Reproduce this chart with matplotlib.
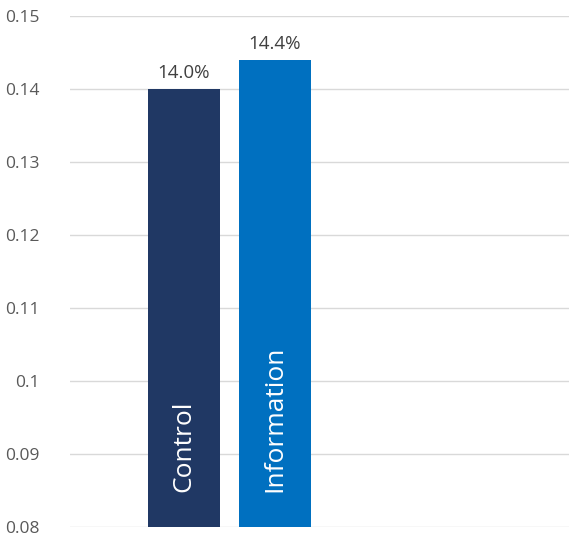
import matplotlib.pyplot as plt
import numpy as np

#data
groups = ['Control', 'Information']
values = [0.140, 0.144]
labels = ['14.0%', '14.4%']
colors = ['#203864', '#0070C0']
yticks = [0.08, 0.09, 0.1, 0.11, 0.12, 0.13, 0.14, 0.15]
ytick_labels = ['0.08', '0.09', '0.1', '0.11', '0.12', '0.13', '0.14', '0.15']

plt.rcParams['font.family'] = ['Open Sans', 'DejaVu Sans']

fig = plt.figure(figsize=(5.69, 5.36), dpi=100)
ax = fig.add_axes([70/569, 1-527/536, 499/569, (527-16)/536])

x = np.arange(len(groups))
ax.bar(x, values, width=0.79, color=colors, zorder=2)

for i in range(len(groups)):
    ax.text(x[i], values[i] + 0.0009, labels[i], ha='center', va='bottom',
            fontsize=13.5, color='#404040')
    ax.text(x[i], 0.0848, groups[i], ha='center', va='bottom', rotation=90,
            fontsize=19, color='white', zorder=3)

ax.set_xlim(-1.253, 4.23)
ax.set_ylim(0.08, 0.15)
ax.set_yticks(yticks)
ax.set_yticklabels(ytick_labels, fontsize=12.5, color='#595959')
ax.set_xticks([])
ax.tick_params(axis='y', length=0, pad=22)
ax.grid(axis='y', color='#D9D9D9', linewidth=1, zorder=0)
for s in ax.spines.values():
    s.set_visible(False)

fig.savefig('out.png', dpi=100)
